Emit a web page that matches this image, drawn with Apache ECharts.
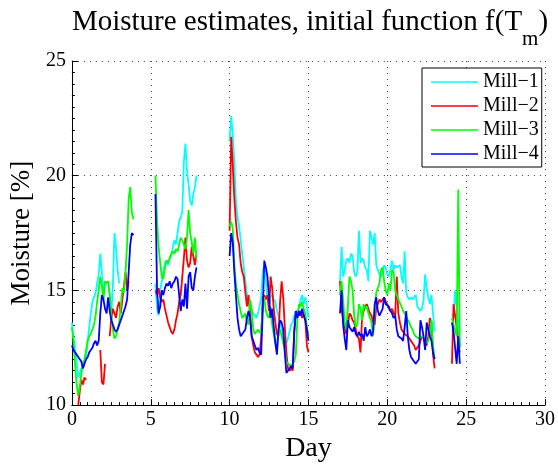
<!DOCTYPE html>
<html><head><meta charset="utf-8">
<script src="https://cdn.jsdelivr.net/npm/echarts@6/dist/echarts.min.js"></script>
<style>html,body{margin:0;padding:0;background:#fff}#c{width:558px;height:468px}</style>
</head><body><div id="c"></div>
<script>
// Segment start days; samples every 0.1 day within each segment
const segStarts = [0.0, 5.2, 10.0, 17.0, 24.1];
const seriesNames = ['Mill\u22121', 'Mill\u22122', 'Mill\u22123', 'Mill\u22124'];
const xTicks = [0, 5, 10, 15, 20, 25, 30];
const yTicks = [10, 15, 20, 25];

const mill1 = [
  [13.6,13.0,12.4,11.9,11.2,11.4,11.6,11.7,11.9,12.1, 12.8,13.4,14.0,14.5,14.7,14.9,15.3,15.7,16.6,15.8, 14.6,15.4,15.3,15.4,14.8,13.9,15.2,17.5,16.8,15.9, 15.3,null,null,null,null,null,null,null,null,null],
  [null,15.3,14.2,13.9,15.0,15.4,15.8,16.2,16.3,16.1, 16.4,16.5,16.9,17.2,17.0,17.5,18.0,18.2,18.4,20.6, 21.4,20.2,19.6,18.9,18.7,19.2,19.5,20.0],
  [21.5,22.6,21.8,20.6,18.9,18.2,17.8,17.2,16.6,16.0, 15.4,14.8,14.4,14.3,14.1,14.0,13.9,13.8,14.0,14.3, 14.7,15.8,16.1,15.4,14.6,14.4,14.7,14.8,14.6,14.5, 14.1,13.9,13.6,13.3,13.0,12.8,12.7,12.9,13.2,13.5, 13.6,13.9,14.1,14.0,14.2,14.6,14.8,14.4,14.7,14.3, 13.8],
  [15.3,16.9,15.6,15.9,16.3,16.4,16.2,16.6,16.5,15.8, 15.6,15.8,17.6,16.2,16.4,16.3,16.0,15.9,15.4,17.6, 17.3,17.0,17.5,16.1,15.9,15.7,15.6,15.8,16.1,16.0, 15.7,15.6,15.9,16.3,15.9,16.1,16.0,16.0,16.1,15.6, 15.3,16.7,14.9,14.7,14.6,14.7,14.6,14.7,14.8,14.3, 14.3,14.1,14.2,14.6,15.7,15.1,14.7,14.4,14.8,14.0, 13.2],
  [null,13.8,15.0,14.3,13.5,12.5]
];
const mill2 = [
  [null,null,null,null,10.0,10.6,11.1,10.9,11.2,11.1, null,null,null,null,null,null,null,null,12.4,11.0, 10.9,11.8,null,null,13.0,13.8,14.2,14.0,13.8,14.3, 14.5,14.0,14.6,15.2,15.8,15.0,15.4,null,null,null],
  [null,15.0,14.8,15.1,14.7,14.5,14.6,14.2,13.9,13.6, 13.4,13.2,13.1,13.3,13.7,14.0,14.5,14.8,15.6,16.4, 17.3,16.3,16.0,16.2,16.9,16.5,16.1,16.6],
  [17.6,21.7,20.5,19.0,18.0,17.3,17.0,16.2,15.8,15.6, 14.9,14.3,14.8,14.0,13.0,12.6,12.3,12.2,12.1,12.2, 12.9,14.7,14.8,14.6,14.8,14.1,15.6,15.1,14.2,13.6, 13.1,13.0,14.5,15.4,14.7,13.4,12.3,11.6,11.5,11.6, 11.5,13.2,14.0,14.1,13.9,14.1,13.8,14.0,13.7,12.6, 12.3],
  [15.4,14.2,13.7,13.4,13.1,13.5,14.0,13.9,13.7,13.6, 13.3,13.0,12.9,12.3,13.8,14.1,14.3,14.4,14.2,14.0, 13.9,13.6,13.5,14.3,14.4,14.6,14.5,14.6,14.7,14.5, 14.4,14.2,14.1,14.2,14.0,13.9,15.6,14.0,13.6,13.3, 13.2,13.1,13.1,13.0,12.9,12.8,12.7,12.6,12.4,12.4, 12.6,12.8,13.0,12.9,12.7,12.6,13.0,13.8,13.6,12.2, 11.6],
  [11.8,14.4,13.9,13.4,12.7,12.3]
];
const mill3 = [
  [13.4,12.8,11.8,10.9,10.4,10.8,11.4,11.8,12.0,12.4, 12.8,13.0,13.1,13.3,13.5,13.9,14.5,15.0,15.6,15.2, 14.6,15.4,15.3,15.4,14.8,13.9,13.3,12.9,13.0,13.3, 13.6,14.3,15.1,14.9,15.8,17.0,19.0,19.5,18.4,18.1],
  [null,20.0,18.0,16.9,16.2,15.6,15.5,16.0,16.3,16.2, 16.4,16.6,16.7,16.6,16.8,16.7,17.0,17.3,17.2,17.0, 16.8,17.3,18.5,17.5,17.1,16.6,17.3,16.4],
  [17.8,18.0,17.7,16.1,15.3,15.3,14.4,14.1,13.8,13.9, 14.0,13.6,13.5,14.6,14.2,13.3,13.1,13.2,13.3,13.2, 13.1,14.3,14.7,14.1,13.9,13.8,14.3,13.5,13.1,12.7, 12.6,13.2,13.3,13.0,12.7,12.4,11.9,11.8,11.8,11.7, 11.8,11.9,12.2,13.8,14.4,14.3,14.5,14.2,14.0,13.4, 13.0],
  [14.8,15.4,14.6,13.6,13.3,14.3,15.6,15.4,15.0,13.9, 13.4,13.5,14.4,14.2,13.7,14.4,14.2,14.3,14.0,13.8, 13.6,13.0,14.1,14.9,14.9,15.3,15.9,16.0,15.4,15.0, 14.8,15.3,15.0,15.9,15.8,15.0,14.8,14.6,14.6,14.3, 14.1,14.0,14.0,13.7,13.6,13.4,13.3,13.1,13.0,13.0, 12.9,12.9,13.0,12.9,12.8,12.7,12.8,13.1,13.7,12.6, 12.0],
  [13.8,13.5,13.3,13.0,19.4,12.5]
];
const mill4 = [
  [12.6,12.4,12.3,12.2,12.1,12.0,11.9,11.6,11.8,12.0, 12.1,12.3,12.4,12.5,12.7,12.8,12.6,12.8,14.0,14.8, 14.6,14.2,14.0,14.7,14.1,13.7,13.5,13.3,13.2,13.3, 13.5,13.7,13.9,14.1,14.3,14.6,15.8,17.0,17.5,17.4],
  [null,19.2,15.0,14.0,14.3,15.0,14.8,15.1,15.3,15.2, 15.4,15.1,15.3,15.4,15.6,15.5,14.8,14.1,14.6,14.3, 15.3,14.2,15.6,15.8,15.1,15.0,15.6,16.0],
  [16.5,17.5,17.1,15.8,14.8,13.8,13.3,13.0,13.1,13.1, 13.3,13.8,14.1,13.8,13.0,12.8,12.6,12.4,12.5,12.3, 12.2,14.1,16.3,16.0,15.6,14.7,13.8,14.2,13.4,12.7, 12.2,13.3,13.7,13.6,13.3,12.3,11.4,11.5,11.6,11.7, 11.6,13.2,14.1,13.8,14.1,13.9,14.2,13.9,13.7,13.3, 12.8],
  [14.0,15.0,13.5,12.9,12.4,13.7,13.4,13.3,13.2,13.4, 13.1,13.0,13.2,13.0,13.1,12.8,13.4,13.0,13.1,13.3, 13.0,13.2,14.4,14.7,14.1,13.9,13.9,14.2,14.7,14.4, 14.4,14.3,14.1,14.0,13.8,13.9,13.3,13.0,13.0,12.9, 12.8,13.4,14.1,13.0,12.4,12.1,12.0,11.9,11.8,11.9, 12.0,13.7,13.4,13.0,12.4,13.6,13.6,13.0,12.8,12.3, 12.0],
  [13.6,13.2,12.5,11.8,13.0,11.8]
];
const colors = ['#00ffff', '#ff0000', '#00ff00', '#0000ff'];

function toPairs(mill) {
  const out = [];
  mill.forEach((seg, s) => {
    seg.forEach((v, i) => {
      out.push([+(segStarts[s] + i * 0.1).toFixed(2), v]);
    });
    out.push([+(segStarts[s] + seg.length * 0.1).toFixed(2), null]); // break between segments
  });
  return out;
}

const FONT = 'Liberation Serif';
const chart = echarts.init(document.getElementById('c'), null, {renderer: 'canvas'});
const mills = [mill1, mill2, mill3, mill4];

chart.setOption({
  animation: false,
  backgroundColor: '#fff',
  title: {
    text: '{a|Moisture estimates, initial function f(T}{s|m}{a|)}',
    left: 305, top: 3, textAlign: 'center',
    textStyle: {
      fontWeight: 'normal',
      rich: {
        a: {fontFamily: FONT, fontSize: 29, fontWeight: 'normal', color: '#000', lineHeight: 32, verticalAlign: 'top'},
        s: {fontFamily: FONT, fontSize: 21, fontWeight: 'normal', color: '#000', lineHeight: 21, verticalAlign: 'top', padding: [21, 0, 0, 0]}
      }
    }
  },
  grid: {left: 71, right: 11.5, top: 61, bottom: 59, containLabel: false},
  legend: {
    orient: 'vertical', left: 422, top: 68,
    padding: [4, 3, 3, 9], itemGap: 4, itemWidth: 47, itemHeight: 1.6,
    icon: 'rect',
    backgroundColor: '#fff', borderColor: '#000', borderWidth: 1, borderRadius: 0,
    textStyle: {fontFamily: FONT, fontSize: 20, color: '#000', lineHeight: 20},
    data: seriesNames
  },
  xAxis: {
    type: 'value', min: xTicks[0], max: xTicks[xTicks.length - 1], interval: 5,
    name: 'Day', nameLocation: 'middle', nameGap: 26,
    nameTextStyle: {fontFamily: FONT, fontSize: 28, color: '#000'},
    axisLine: {show: true, onZero: false, lineStyle: {color: '#000', width: 1}},
    axisTick: {show: true, inside: true, length: 6, lineStyle: {color: '#000'}},
    minorTick: {show: true, splitNumber: 10, length: 3, lineStyle: {color: '#000'}},
    axisLabel: {fontFamily: FONT, fontSize: 20, color: '#000', margin: 5},
    splitLine: {show: true, lineStyle: {color: '#444', type: [1, 5], width: 1}}
  },
  yAxis: {
    type: 'value', min: yTicks[0], max: yTicks[yTicks.length - 1], interval: 5,
    name: 'Moisture [%]', nameLocation: 'middle', nameGap: 24,
    nameTextStyle: {fontFamily: FONT, fontSize: 27, color: '#000'},
    axisLine: {show: true, onZero: false, lineStyle: {color: '#000', width: 1}},
    axisTick: {show: true, inside: true, length: 6, lineStyle: {color: '#000'}},
    minorTick: {show: true, splitNumber: 10, length: 3, lineStyle: {color: '#000'}},
    axisLabel: {fontFamily: FONT, fontSize: 20, color: '#000', margin: 6},
    splitLine: {show: true, lineStyle: {color: '#444', type: [1, 5], width: 1}}
  },
  series: mills.map((m, k) => ({
    name: seriesNames[k], type: 'line', data: toPairs(m),
    symbol: 'none', showSymbol: false, connectNulls: false,
    lineStyle: {color: colors[k], width: 1.8}, itemStyle: {color: colors[k]}
  }))
});
</script></body></html>
